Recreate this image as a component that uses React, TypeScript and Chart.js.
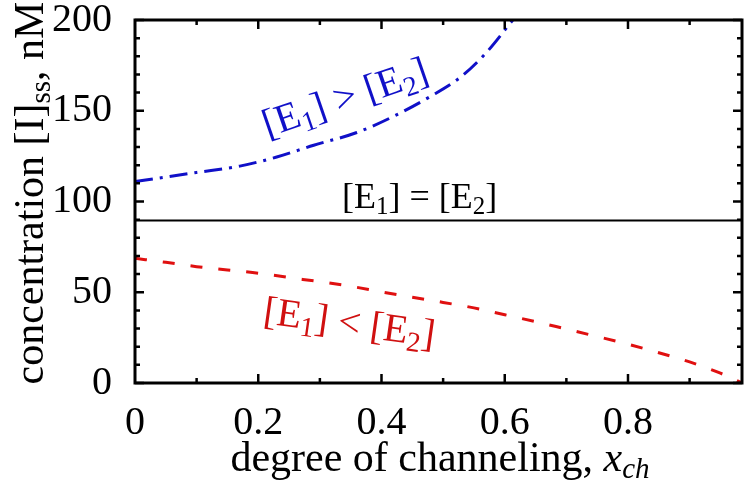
import React, { useEffect, useRef } from "react";
import { Chart, registerables } from "chart.js";

Chart.register(...registerables);

// ---- data ----
const blueX = [0, 0.05, 0.1, 0.17, 0.23, 0.29, 0.36, 0.42, 0.48, 0.53, 0.57, 0.613];
const blueY = [111, 113.5, 116, 119.5, 124.5, 131, 138, 147, 158, 169, 182, 200];

const redX = [0, 0.05, 0.1, 0.15, 0.2, 0.25, 0.3, 0.35, 0.4, 0.45, 0.5, 0.55, 0.6, 0.65, 0.7, 0.75, 0.8, 0.85, 0.9, 0.95, 0.985];
const redY = [68.7, 66.5, 64.1, 62.3, 60.5, 58.1, 55.8, 53.3, 50.2, 47.3, 44.4, 41.4, 37.6, 33.8, 29.7, 25.6, 21.4, 16.7, 11.6, 5.4, 0];

const equalX = [0, 0.985];
const equalY = [89.5, 89.5];

const xMin = 0;
const xMax = 0.985;
const yMin = 0;
const yMax = 200;
const yTickStep = 50;
const xTickStep = 0.2;

const xTitle = "degree of channeling, ";
const xTitleVar = "x";
const xTitleSub = "ch";
const yTitleMain = "concentration [I]";
const yTitleSub = "ss";
const yTitleEnd = ", nM";

const FONT = "'Liberation Serif', 'DejaVu Serif', serif";

type Part = { t: string; sub?: boolean; italic?: boolean };

function drawRich(ctx: CanvasRenderingContext2D, parts: Part[], size: number) {
  const fontFor = (p: Part) =>
    `${p.italic ? "italic " : ""}${p.sub ? Math.round(size * 0.7) : size}px ${FONT}`;
  let total = 0;
  const widths: number[] = [];
  for (const p of parts) {
    ctx.font = fontFor(p);
    const w = ctx.measureText(p.t).width;
    widths.push(w);
    total += w;
  }
  let x = -total / 2;
  const base = size * 0.3;
  ctx.textBaseline = "alphabetic";
  ctx.textAlign = "left";
  parts.forEach((p, i) => {
    ctx.font = fontFor(p);
    ctx.fillText(p.t, x, base + (p.sub ? size * 0.18 : 0));
    x += widths[i];
  });
}

const E1E2 = (op: string): Part[] => [
  { t: "[E" },
  { t: "1", sub: true },
  { t: "] " + op + " [E" },
  { t: "2", sub: true },
  { t: "]" },
];

const decorPlugin = {
  id: "decor",
  afterDatasetsDraw(chart: any) {
    const ctx: CanvasRenderingContext2D = chart.ctx;
    const xs = chart.scales.x;
    const ys = chart.scales.y;
    const area = chart.chartArea;
    ctx.save();
    ctx.strokeStyle = "#000";
    ctx.lineWidth = 2.5;
    // y ticks (inward, left and right)
    for (let v = yMin; v <= yMax + 1e-9; v += 10) {
      const py = ys.getPixelForValue(v);
      const len = Math.abs(v % yTickStep) < 1e-6 ? 9 : 5;
      ctx.beginPath();
      ctx.moveTo(area.left, py);
      ctx.lineTo(area.left + len, py);
      ctx.moveTo(area.right, py);
      ctx.lineTo(area.right - len, py);
      ctx.stroke();
    }
    // x ticks (inward, bottom and top)
    for (let i = 1; i * 0.1 <= xMax; i++) {
      const v = i * 0.1;
      const px = xs.getPixelForValue(v);
      const len = i % 2 === 0 ? 9 : 5;
      ctx.beginPath();
      ctx.moveTo(px, area.bottom);
      ctx.lineTo(px, area.bottom - len);
      ctx.moveTo(px, area.top);
      ctx.lineTo(px, area.top + len);
      ctx.stroke();
    }
    // frame
    ctx.lineWidth = 3;
    ctx.strokeRect(area.left, area.top, area.right - area.left, area.bottom - area.top);

    // annotations
    ctx.fillStyle = "#000";
    ctx.save();
    ctx.translate(xs.getPixelForValue(0.462), ys.getPixelForValue(102.5));
    drawRich(ctx, E1E2("="), 36);
    ctx.restore();

    ctx.fillStyle = "#1010c8";
    ctx.save();
    ctx.translate(xs.getPixelForValue(0.341), ys.getPixelForValue(157));
    ctx.rotate((-19 * Math.PI) / 180);
    drawRich(ctx, E1E2(">"), 40);
    ctx.restore();

    ctx.fillStyle = "#d01010";
    ctx.save();
    ctx.translate(xs.getPixelForValue(0.348), ys.getPixelForValue(33));
    ctx.rotate((8 * Math.PI) / 180);
    drawRich(ctx, E1E2("<"), 40);
    ctx.restore();

    // axis titles
    ctx.fillStyle = "#000";
    ctx.save();
    ctx.translate(440, 458);
    drawRich(
      ctx,
      [{ t: xTitle }, { t: xTitleVar, italic: true }, { t: xTitleSub, italic: true, sub: true }],
      42
    );
    ctx.restore();

    ctx.save();
    ctx.translate(30, 193);
    ctx.rotate(-Math.PI / 2);
    drawRich(ctx, [{ t: yTitleMain }, { t: yTitleSub, sub: true }, { t: yTitleEnd }], 42);
    ctx.restore();

    ctx.restore();
  },
};

export default function App() {
  const ref = useRef<HTMLCanvasElement | null>(null);
  useEffect(() => {
    if (!ref.current) return;
    const chart = new Chart(ref.current, {
      type: "line",
      data: {
        datasets: [
          {
            data: blueX.map((x, i) => ({ x, y: blueY[i] })),
            borderColor: "#1010c8",
            borderWidth: 3,
            borderDash: [18, 7, 3, 7],
            pointRadius: 0,
            cubicInterpolationMode: "monotone",
            fill: false,
          },
          {
            data: equalX.map((x, i) => ({ x, y: equalY[i] })),
            borderColor: "#000",
            borderWidth: 2,
            pointRadius: 0,
            fill: false,
          },
          {
            data: redX.map((x, i) => ({ x, y: redY[i] })),
            borderColor: "#e01010",
            borderWidth: 3,
            borderDash: [12, 16],
            pointRadius: 0,
            cubicInterpolationMode: "monotone",
            fill: false,
          },
        ],
      },
      options: {
        animation: false,
        responsive: true,
        maintainAspectRatio: false,
        layout: { padding: { left: 0, top: 20, right: 8, bottom: 0 } },
        plugins: { legend: { display: false }, tooltip: { enabled: false } },
        scales: {
          x: {
            type: "linear",
            min: xMin,
            max: xMax,
            grid: { display: false, drawTicks: false },
            border: { display: false },
            ticks: {
              stepSize: xTickStep,
              includeBounds: false,
              padding: 16,
              color: "#000",
              font: { family: FONT, size: 40 },
              autoSkip: false,
              maxRotation: 0,
              callback: (v: any) => {
                const n = Number(v);
                if (Math.abs(n / xTickStep - Math.round(n / xTickStep)) > 1e-6) return "";
                return n === 0 ? "0" : n.toFixed(1);
              },
            },
            afterFit: (s: any) => {
              s.height = 104;
              s.paddingLeft = 0;
              s.paddingRight = 0;
            },
          },
          y: {
            type: "linear",
            min: yMin,
            max: yMax,
            grid: { display: false, drawTicks: false },
            border: { display: false },
            ticks: {
              stepSize: yTickStep,
              padding: 23,
              color: "#000",
              font: { family: FONT, size: 40 },
            },
            afterFit: (s: any) => {
              s.width = 135;
              s.paddingTop = 0;
              s.paddingBottom = 0;
            },
          },
        },
      },
      plugins: [decorPlugin],
    } as any);
    return () => chart.destroy();
  }, []);
  return (
    <div style={{ position: "fixed", left: 0, top: 0, width: 750, height: 487, background: "#fff" }}>
      <canvas ref={ref} />
    </div>
  );
}
